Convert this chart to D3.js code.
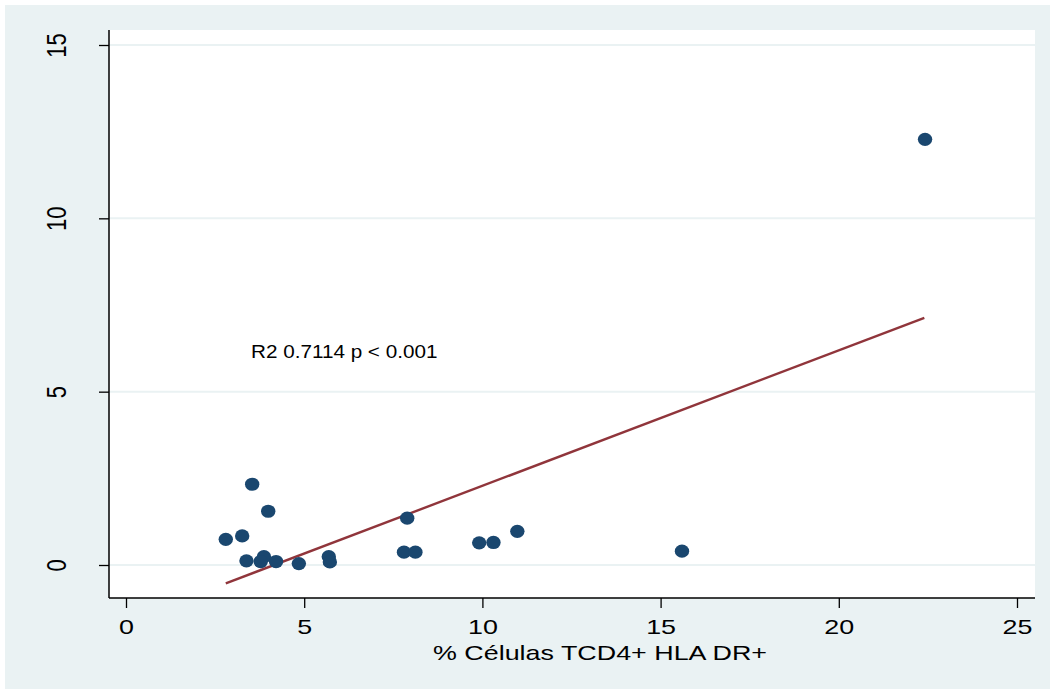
<!DOCTYPE html>
<html>
<head>
<meta charset="utf-8">
<script src="https://cdn.jsdelivr.net/npm/d3@7"></script>
<style>
  body { margin: 0; background: #fff; }
  svg { display: block; font-family: "Liberation Sans", Arial, sans-serif; }
</style>
</head>
<body>
<div class="draw"></div>
<script>
// data
var cellsX = [2.80, 3.26, 3.54, 3.99, 3.38, 3.87, 3.78, 4.21, 4.85, 5.69, 5.72, 7.89, 7.80, 8.12, 9.91, 10.31, 10.98, 15.60, 22.42];
var valuesY = [0.74, 0.84, 2.33, 1.55, 0.12, 0.24, 0.10, 0.10, 0.04, 0.24, 0.09, 1.35, 0.37, 0.37, 0.64, 0.65, 0.97, 0.40, 12.28];
var fitX = [2.80, 22.40];
var fitY = [-0.53, 7.13];
var xTicks = [0, 5, 10, 15, 20, 25];
var yTicks = [0, 5, 10, 15];
var xTitle = '% Células TCD4+ HLA DR+';
var note = 'R2 0.7114 p < 0.001';

var size = { w: 1050, h: 690 };
var plot = { left: 109, right: 1035, top: 30, bottom: 598 };

var x = d3.scaleLinear().domain([0, 25]).range([126, 1017]);
var y = d3.scaleLinear().domain([0, 15]).range([565, 45]);

var svg = d3.select('.draw').append('svg')
  .attr('width', size.w)
  .attr('height', size.h);

// outer background
svg.append('rect')
  .attr('x', 5).attr('y', 5)
  .attr('width', size.w - 5).attr('height', size.h - 6)
  .attr('fill', '#eaf2f3');

// plot region
svg.append('rect')
  .attr('x', plot.left).attr('y', plot.top)
  .attr('width', plot.right - plot.left).attr('height', plot.bottom - plot.top)
  .attr('fill', '#fff');

// grid
svg.append('g').selectAll('line').data(yTicks).enter().append('line')
  .attr('x1', plot.left).attr('x2', plot.right)
  .attr('y1', function(d) { return y(d); })
  .attr('y2', function(d) { return y(d); })
  .attr('stroke', '#eaf2f3')
  .attr('stroke-width', 2);

// fit line
svg.append('line')
  .attr('x1', x(fitX[0])).attr('y1', y(fitY[0]))
  .attr('x2', x(fitX[1])).attr('y2', y(fitY[1]))
  .attr('stroke', '#90353b')
  .attr('stroke-width', 2.4);

// points
svg.append('g').selectAll('ellipse').data(cellsX).enter().append('ellipse')
  .attr('cx', function(d) { return x(d); })
  .attr('cy', function(d, i) { return y(valuesY[i]); })
  .attr('rx', 7.2)
  .attr('ry', 6.6)
  .attr('fill', '#1a476f');

// axes
var xAxis = svg.append('g')
  .attr('transform', 'translate(0,' + plot.bottom + ')')
  .call(d3.axisBottom(x).tickValues(xTicks).tickSize(10).tickSizeOuter(0).tickFormat(d3.format('d')));
xAxis.select('.domain').attr('d', 'M' + plot.left + ',0H' + plot.right).attr('stroke-width', 1.5);
xAxis.selectAll('.tick line').attr('stroke-width', 1.3);
xAxis.selectAll('.tick text')
  .attr('y', 36).attr('dy', null)
  .attr('transform', 'scale(1.28,1)')
  .attr('font-size', 21)
  .attr('fill', '#000');

var yAxis = svg.append('g')
  .attr('transform', 'translate(' + plot.left + ',0)')
  .call(d3.axisLeft(y).tickValues(yTicks).tickSize(10).tickSizeOuter(0).tickFormat(d3.format('d')));
yAxis.select('.domain').attr('d', 'M0,' + plot.top + 'V' + plot.bottom).attr('stroke-width', 1.5);
yAxis.selectAll('.tick line').attr('stroke-width', 1.3);
yAxis.selectAll('.tick text')
  .attr('x', 0).attr('y', 0).attr('dy', null)
  .attr('text-anchor', 'middle')
  .attr('transform', 'translate(-43,0) scale(1.25,1) rotate(-90)')
  .attr('font-size', 22)
  .attr('fill', '#000');

// axis title
svg.append('text')
  .attr('transform', 'translate(600,660) scale(1.28,1)')
  .attr('text-anchor', 'middle')
  .attr('font-size', 21)
  .attr('fill', '#000')
  .text(xTitle);

// annotation
svg.append('text')
  .attr('transform', 'translate(251,357.5) scale(1.15,1)')
  .attr('font-size', 18)
  .attr('fill', '#000')
  .text(note);
</script>
</body>
</html>
